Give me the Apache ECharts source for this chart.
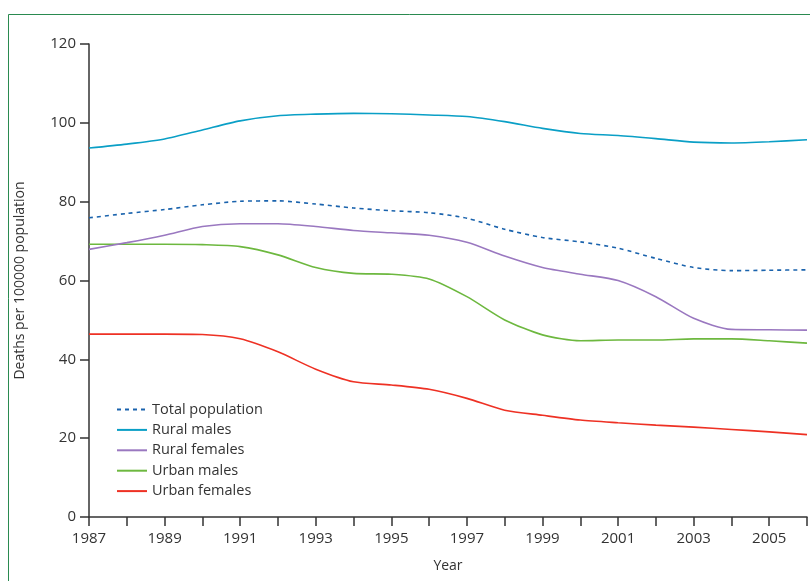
<!DOCTYPE html>
<html>
<head>
<meta charset="utf-8">
<script src="https://cdn.jsdelivr.net/npm/echarts@6/dist/echarts.min.js"></script>
<style>html,body{margin:0;padding:0;background:#fff;}#c{width:810px;height:581px;}</style>
</head>
<body>
<div id="c"></div>
<script>
const years = [1987,1988,1989,1990,1991,1992,1993,1994,1995,1996,1997,1998,1999,2000,2001,2002,2003,2004,2005,2006];
const totalPopulation = [75.9,77.0,78.0,79.2,80.1,80.2,79.4,78.4,77.7,77.2,75.8,73.0,70.9,69.8,68.2,65.6,63.3,62.5,62.6,62.7];
const ruralMales = [93.6,94.6,95.9,98.2,100.5,101.8,102.2,102.4,102.3,102.0,101.6,100.3,98.6,97.3,96.8,96.0,95.1,94.9,95.2,95.7];
const ruralFemales = [67.9,69.6,71.5,73.7,74.4,74.4,73.7,72.7,72.1,71.5,69.7,66.2,63.3,61.6,60.0,55.9,50.4,47.6,47.5,47.4];
const urbanMales = [69.2,69.2,69.2,69.1,68.6,66.5,63.3,61.8,61.6,60.4,55.9,50.0,46.2,44.7,44.9,44.9,45.2,45.2,44.7,44.1];
const urbanFemales = [46.4,46.4,46.4,46.3,45.2,41.9,37.5,34.3,33.5,32.4,30.1,27.1,25.8,24.6,23.9,23.3,22.8,22.2,21.6,20.9];
const seriesNames = ['Total population','Rural males','Rural females','Urban males','Urban females'];
const seriesValues = [totalPopulation, ruralMales, ruralFemales, urbanMales, urbanFemales];
const seriesColors = ['#1a63ad','#0a9fc6','#9a78c0','#6db83f','#ee3124'];
const yTicks = [0,20,40,60,80,100,120];

const FONT = '"Open Sans", "Noto Sans", sans-serif';
const chart = echarts.init(document.getElementById('c'), null, {renderer:'canvas'});
const series = seriesNames.map((name, i) => ({
  name: name,
  type: 'line',
  data: years.map((y, j) => [y, seriesValues[i][j]]),
  smooth: 0.25,
  symbol: 'none',
  showSymbol: false,
  lineStyle: { color: seriesColors[i], width: 1.6, type: i === 0 ? [4, 4] : 'solid' },
  itemStyle: { color: seriesColors[i] },
  z: 5 - i
}));

chart.setOption({
  animation: false,
  backgroundColor: '#fff',
  textStyle: { fontFamily: FONT },
  graphic: [{
    type: 'rect',
    shape: { x: 8.5, y: 14.5, width: 900, height: 700 },
    style: { fill: 'none', stroke: '#2a8a50', lineWidth: 1 },
    silent: true, z: -1
  }],
  grid: { left: 89, top: 44, width: 722, height: 473, containLabel: false },
  legend: {
    data: seriesNames.map(n => ({ name: n })),
    orient: 'vertical',
    left: 111,
    top: 397,
    itemWidth: 30,
    itemHeight: 14,
    itemGap: 5.4,
    itemStyle: { opacity: 0 },
    textStyle: { fontFamily: FONT, fontSize: 14.5, color: '#333' }
  },
  xAxis: {
    type: 'value',
    min: 1987,
    max: 2006,
    interval: 1,
    name: 'Year',
    nameLocation: 'middle',
    nameGap: 42,
    nameTextStyle: { fontFamily: FONT, fontSize: 14, color: '#333' },
    splitLine: { show: false },
    axisLine: { lineStyle: { color: '#333', width: 1.5 } },
    axisTick: { show: true, length: 9, lineStyle: { color: '#333', width: 1.5 } },
    axisLabel: {
      margin: 14,
      fontFamily: FONT, fontSize: 15, color: '#333',
      formatter: v => (v % 2 === 1 ? String(v) : '')
    }
  },
  yAxis: {
    type: 'value',
    min: 0,
    max: 120,
    interval: 20,
    name: 'Deaths per 100000 population',
    nameLocation: 'middle',
    nameGap: 62,
    nameRotate: 90,
    nameTextStyle: { fontFamily: FONT, fontSize: 14, color: '#333' },
    splitLine: { show: false },
    axisLine: { show: true, lineStyle: { color: '#333', width: 1.5 } },
    axisTick: { show: true, length: 9, lineStyle: { color: '#333', width: 1.5 } },
    axisLabel: {
      margin: 13,
      fontFamily: FONT, fontSize: 15, color: '#333',
      formatter: v => (yTicks.indexOf(v) >= 0 ? String(v) : '')
    }
  },
  series: series
});
</script>
</body>
</html>
